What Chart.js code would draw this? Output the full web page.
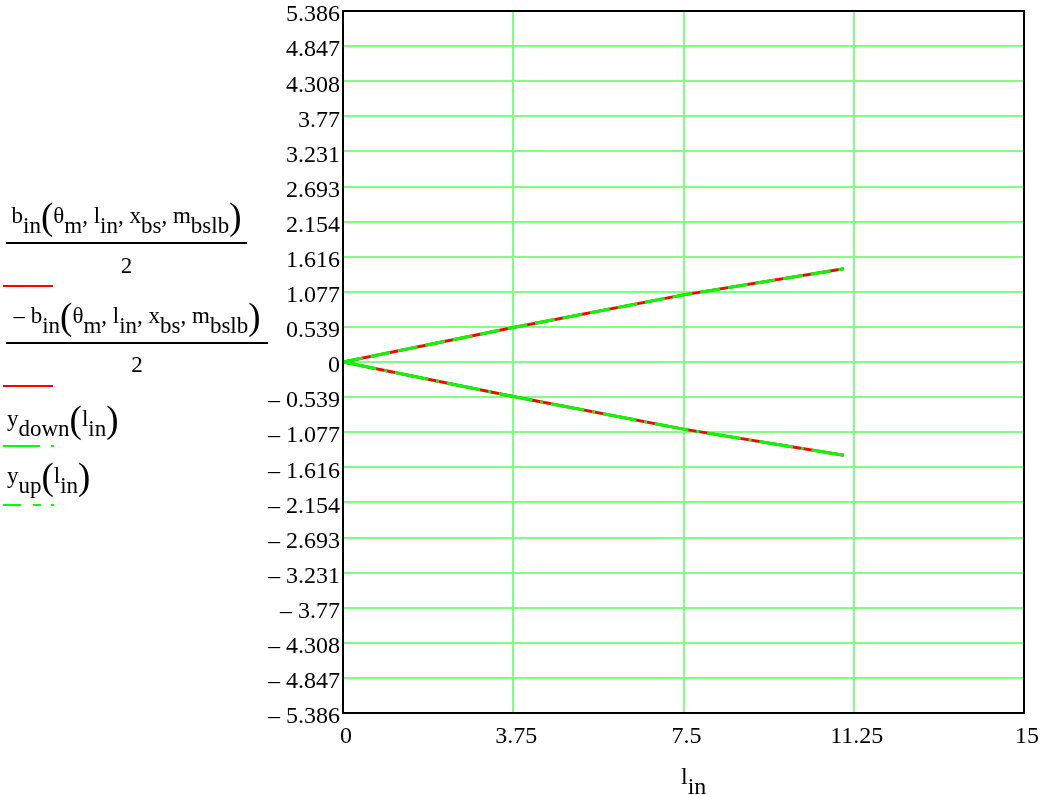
<!DOCTYPE html>
<html>
<head>
<meta charset="utf-8">
<script src="https://cdn.jsdelivr.net/npm/chart.js@4.4.1/dist/chart.umd.min.js"></script>
<style>
  body { margin: 0; background: #fff; }
  canvas { display: block; }
</style>
</head>
<body>
<canvas id="plot" width="1042" height="795"></canvas>
<script>
// values, x axis is l_in
const lIn = [0, 3.75, 7.5, 11.03];
const bHalf = [0, 0.53, 1.03, 1.43];        // b_in(...)/2
const bHalfNeg = [0, -0.53, -1.03, -1.43];  // -b_in(...)/2
const yUp = [0, 0.53, 1.03, 1.43];
const yDown = [0, -0.53, -1.03, -1.43];

const xTicks = [0, 3.75, 7.5, 11.25, 15];
const yTicks = [5.386, 4.847, 4.308, 3.77, 3.231, 2.693, 2.154, 1.616, 1.077, 0.539, 0,
  -0.539, -1.077, -1.616, -2.154, -2.693, -3.231, -3.77, -4.308, -4.847, -5.386];

const SERIF = '"Liberation Serif", "DejaVu Serif", serif';
const GRID = '#80ff80';
const pts = (xs, ys) => xs.map((x, i) => ({ x: x, y: ys[i] }));

// draws text with subscripts and tall brackets, returns width
function rich(ctx, parts, x, y, size, noDraw) {
  let cx = x;
  for (const [t, k] of parts) {
    ctx.font = (k === 'p' ? Math.round(size * 1.6) : size) + 'px ' + SERIF;
    const dy = k === 's' ? Math.round(size * 0.42) : k === 'p' ? Math.round(size * 0.28) : 0;
    if (!noDraw) ctx.fillText(t, cx, y + dy);
    cx += ctx.measureText(t).width;
  }
  return cx - x;
}

const args = [['(', 'p'], ['θ', 'n'], ['m', 's'], [', ', 'n'], ['l', 'n'], ['in', 's'], [', ', 'n'],
  ['x', 'n'], ['bs', 's'], [', ', 'n'], ['m', 'n'], ['bslb', 's'], [')', 'p']];

const sidePlugin = {
  id: 'side',
  afterDatasetsDraw(chart) {
    const ctx = chart.ctx;
    const a = chart.chartArea;
    ctx.save();
    ctx.strokeStyle = '#000';
    ctx.lineWidth = 2;
    ctx.strokeRect(a.left, a.top, a.right - a.left, a.bottom - a.top);
    ctx.restore();
  },
  afterDraw(chart) {
    const ctx = chart.ctx;
    ctx.save();
    ctx.fillStyle = '#000';
    ctx.textBaseline = 'alphabetic';
    ctx.textAlign = 'left';
    const fs = 23;

    // b_in(...)/2
    let parts = [['b', 'n'], ['in', 's']].concat(args);
    let w = rich(ctx, parts, 0, 0, fs, true);
    rich(ctx, parts, 126.5 - w / 2, 223, fs);
    ctx.fillRect(6, 242, 241, 2);
    ctx.font = fs + 'px ' + SERIF;
    ctx.textAlign = 'center';
    ctx.fillText('2', 126.5, 273);
    ctx.textAlign = 'left';
    ctx.fillStyle = '#ff0000';
    ctx.fillRect(3, 285, 50, 2);

    // -b_in(...)/2
    ctx.fillStyle = '#000';
    parts = [['\u2013 ', 'n'], ['b', 'n'], ['in', 's']].concat(args);
    w = rich(ctx, parts, 0, 0, fs, true);
    rich(ctx, parts, 137 - w / 2, 323, fs);
    ctx.fillRect(6, 342, 262, 2);
    ctx.font = fs + 'px ' + SERIF;
    ctx.textAlign = 'center';
    ctx.fillText('2', 137, 372);
    ctx.textAlign = 'left';
    ctx.fillStyle = '#ff0000';
    ctx.fillRect(3, 385, 50, 2);

    // y_down(l_in)
    ctx.fillStyle = '#000';
    rich(ctx, [['y', 'n'], ['down', 's'], ['(', 'p'], ['l', 'n'], ['in', 's'], [')', 'p']], 7, 426, fs);
    ctx.fillStyle = '#00ff00';
    ctx.fillRect(3, 445, 37, 2);
    ctx.fillRect(51, 445, 3, 2);

    // y_up(l_in)
    ctx.fillStyle = '#000';
    rich(ctx, [['y', 'n'], ['up', 's'], ['(', 'p'], ['l', 'n'], ['in', 's'], [')', 'p']], 7, 483, fs);
    ctx.fillStyle = '#00ff00';
    ctx.fillRect(3, 504, 18, 2);
    ctx.fillRect(33, 504, 8, 2);
    ctx.fillRect(51, 504, 3, 2);

    // x axis title
    ctx.fillStyle = '#000';
    rich(ctx, [['l', 'n'], ['in', 's']], 681, 784, 24);
    ctx.restore();
  }
};

new Chart(document.getElementById('plot'), {
  type: 'scatter',
  data: {
    datasets: [
      { label: 'y_up', data: pts(lIn, yUp), borderColor: '#00ff00', borderDash: [20, 8], order: 0 },
      { label: 'y_down', data: pts(lIn, yDown), borderColor: '#00ff00', borderDash: [34, 8, 3, 8], order: 0 },
      { label: 'b/2', data: pts(lIn, bHalf), borderColor: '#ff0000', order: 1 },
      { label: '-b/2', data: pts(lIn, bHalfNeg), borderColor: '#ff0000', order: 1 }
    ].map(d => Object.assign(d, { showLine: true, pointRadius: 0, borderWidth: 3, fill: false, tension: 0 }))
  },
  options: {
    responsive: false,
    animation: false,
    layout: { padding: { top: 11, right: 18, left: 0, bottom: 0 } },
    plugins: { legend: { display: false }, tooltip: { enabled: false } },
    scales: {
      x: {
        type: 'linear',
        min: 0,
        max: 15,
        afterBuildTicks: s => { s.ticks = xTicks.map(v => ({ value: v })); },
        afterFit: s => { s.height = 82; s.paddingLeft = 0; s.paddingRight = 0; },
        ticks: {
          color: '#000',
          font: { family: SERIF, size: 24 },
          padding: 9,
          labelOffset: 3,
          maxRotation: 0,
          autoSkip: false,
          callback: v => String(v)
        },
        grid: { color: GRID, lineWidth: 2, drawTicks: false },
        border: { display: false }
      },
      y: {
        min: -5.386,
        max: 5.386,
        afterBuildTicks: s => { s.ticks = yTicks.map(v => ({ value: v })); },
        afterFit: s => { s.width = 343; s.paddingTop = 0; s.paddingBottom = 0; },
        ticks: {
          color: '#000',
          font: { family: SERIF, size: 24 },
          padding: 3,
          labelOffset: 4,
          autoSkip: false,
          callback: v => v < 0 ? '\u2013 ' + Math.abs(v) : String(v)
        },
        grid: { color: GRID, lineWidth: 2, drawTicks: false },
        border: { display: false }
      }
    }
  },
  plugins: [sidePlugin]
});
</script>
</body>
</html>
